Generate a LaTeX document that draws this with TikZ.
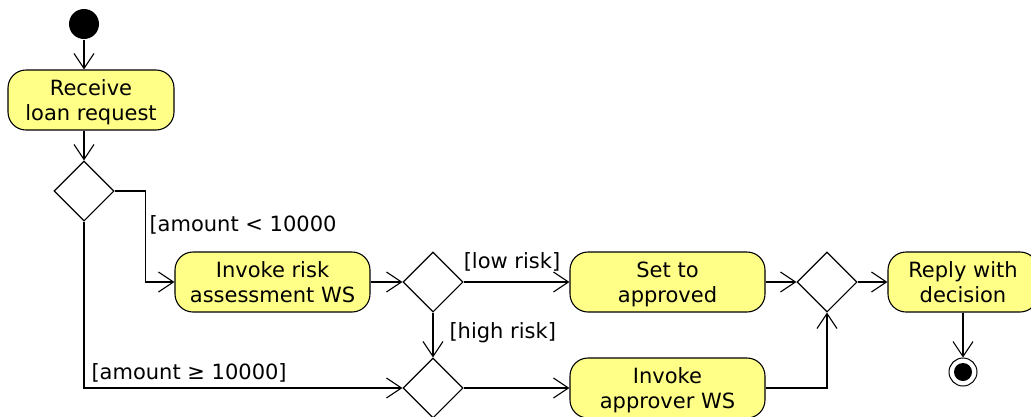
\documentclass[tikz,border=0pt]{standalone}
\usepackage{fontspec}
\setmainfont{DejaVu Sans}
\usetikzlibrary{shapes.geometric,arrows.meta}
\begin{document}
\begin{tikzpicture}[x=1pt,y=-1pt,
  line width=1.1pt,
  >={Straight Barb[length=15pt,width=20pt]},
  action/.style={draw, rounded corners=18pt, fill=actfill, align=center,
    minimum height=60pt, inner sep=0pt, text depth=0pt, font=\fontsize{21}{25.5}\selectfont},
  decision/.style={draw, diamond, aspect=1, minimum width=60pt, minimum height=60pt, inner sep=0pt},
  guard/.style={font=\fontsize{21}{25}\selectfont, inner sep=0pt}]
\definecolor{actfill}{HTML}{FFFF88}
\useasboundingbox (0,0) rectangle (1031,416);

% initial and final nodes
\node[circle, fill=black, minimum size=30pt, inner sep=0pt] (start) at (84,24) {};
\node[circle, draw, minimum size=28pt, inner sep=0pt, line width=1pt] (final) at (963,372) {};
\fill (final.center) circle (9pt);

% actions
\node[action, minimum width=166pt] (receive) at (91,100) {Receive\\loan request};
\node[action, minimum width=195pt] (risk) at (272.5,282) {Invoke risk\\assessment WS};
\node[action, minimum width=195pt] (approved) at (667.5,282) {Set to\\approved};
\node[action, minimum width=195pt] (approver) at (667.5,388) {Invoke\\approver WS};
\node[action, minimum width=150pt] (reply) at (963,282) {Reply with\\decision};

% decisions and merges
\node[decision] (d1) at (84,191) {};
\node[decision] (d2) at (433,282) {};
\node[decision] (d3) at (433,388) {};
\node[decision] (d4) at (827,282) {};

% flows
\draw[->] (start) -- (d1 |- receive.north);
\draw[->] (d1 |- receive.south) -- (d1.north);
\draw[->] (d1.east) -- ++(31,0) |- (risk.west);
\draw[->] (d1.south) |- (d3.west);
\draw[->] (risk.east) -- (d2.west);
\draw[->] (d2.east) -- (approved.west);
\draw[->] (d2.south) -- (d3.north);
\draw[->] (d3.east) -- (approver.west);
\draw[->] (approved.east) -- (d4.west);
\draw[->] (approver.east) -| (d4.south);
\draw[->] (d4.east) -- (reply.west);
\draw[->] (reply.south) -- (final.north);

% guards
\node[guard, anchor=west] (g1) at (149,225) {[amount < 10000};
\node[guard, anchor=west] (g2) at (91,373) {[amount ≥ 10000]};
\node[guard] (g3) at (512,262) {[low risk]};
\node[guard, anchor=west] (g4) at (449,333) {[high risk]};
\end{tikzpicture}
\end{document}
